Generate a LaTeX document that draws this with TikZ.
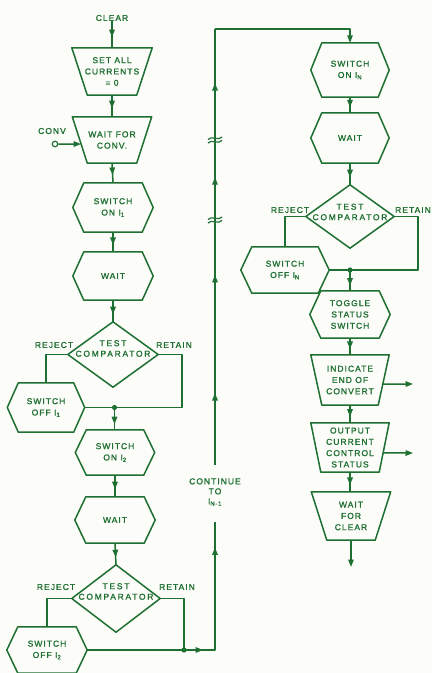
\documentclass[tikz,border=0pt]{standalone}
\usepackage{fontspec}
\newfontfamily\lbl[LetterSpace=12,FakeBold=1.3]{Liberation Sans}
\newfontfamily\lblw[LetterSpace=20,FakeBold=1.3]{Liberation Sans}
\usetikzlibrary{arrows.meta,decorations.markings,calc}
\definecolor{fg}{RGB}{30,112,50}
\definecolor{bg}{RGB}{252,252,249}
\tikzset{
 tip/.tip={Triangle[length=7.5pt,width=5.5pt]},
 ln/.style={draw=fg, line width=1.5pt, line join=round},
 box/.style={draw=none, inner sep=0pt, align=center, text=fg, font=\lbl\fontsize{8.5}{11.3}\selectfont},
 txt/.style={inner sep=0pt, align=center, text=fg, font=\lbl\fontsize{8.5}{11.3}\selectfont},
 dtxt/.style={inner sep=0pt, align=center, text=fg, font=\lblw\fontsize{8.5}{10.5}\selectfont},
 arr/.style={postaction={decorate}, decoration={markings, mark=at position #1 with {\arrow{tip}}}},
 arr/.default=0.6,
 endarr/.style={-tip},
}
\newcommand\hexo[2][11pt]{\draw[ln] ([xshift=#1]#2.north west) -- ([xshift=-#1]#2.north east) -- (#2.east) -- ([xshift=-#1]#2.south east) -- ([xshift=#1]#2.south west) -- (#2.west) -- cycle;}
\newcommand\trapo[2][15pt]{\draw[ln] (#2.north west) -- (#2.north east) -- ([xshift=-#1]#2.south east) -- ([xshift=#1]#2.south west) -- cycle;}
\newcommand\diao[1]{\draw[ln] (#1.north) -- (#1.east) -- (#1.south) -- (#1.west) -- cycle;}
\newcommand\brk[1]{\draw[fg, line width=1.2pt] ($(#1)+(-7,-0.5)$) .. controls +(3.5,-4.5) and +(-3.5,4.5) .. ($(#1)+(7,-3)$);
 \draw[fg, line width=1.2pt] ($(#1)+(-7,3)$) .. controls +(3.5,-4.5) and +(-3.5,4.5) .. ($(#1)+(7,0.5)$);}
\begin{document}
\begin{tikzpicture}[x=1pt,y=-1pt]
\fill[bg] (0,0) rectangle (432,673);
\useasboundingbox (0,0) rectangle (432,673);

% ---------- left column ----------
\node[txt] (clr) at (112,18) {CLEAR};
\node[box, minimum width=80pt, minimum height=47pt] (set) at (112,71.5) {SET ALL\\CURRENTS\\= 0};
\trapo[15.5pt]{set}
\node[box, minimum width=79pt, minimum height=46pt] (conv) at (112,140) {WAIT FOR\\CONV.};
\trapo{conv}
\node[txt] (convl) at (52,131) {CONV};
\node[draw=fg, circle, line width=1.2pt, minimum size=5.5pt, inner sep=0pt, fill=white] (convc) at (55,144) {};
\coordinate (convin) at ($(conv.north west)!0.587!([xshift=15pt]conv.south west)$);

\node[box, minimum width=80pt, minimum height=49pt] (on1) at (113,207.5) {SWITCH\\ON I\textsubscript{1}};
\hexo{on1}
\node[box, minimum width=80pt, minimum height=48pt] (wait1) at (113,276) {WAIT};
\hexo{wait1}
\node[box, minimum width=90pt, minimum height=65pt] (dia1) at (113,354.5) {};
\diao{dia1}
\node[dtxt] (dia1t) at (113,348.5) {TEST\\COMPARATOR};
\node[txt] (rej1) at (54,345) {REJECT};
\node[txt] (ret1) at (174,345) {RETAIN};
\node[box, minimum width=77pt, minimum height=49pt] (off1) at (46,407.5) {SWITCH\\OFF I\textsubscript{1}};
\hexo{off1}
\coordinate (r1) at (182,407.5);
\coordinate (j1) at (114.5,407.5);

\node[box, minimum width=79pt, minimum height=45pt] (on2) at (115,452.5) {SWITCH\\ON I\textsubscript{2}};
\hexo{on2}
\node[box, minimum width=80pt, minimum height=46pt] (wait2) at (115,520) {WAIT};
\hexo{wait2}
\node[box, minimum width=88pt, minimum height=67pt] (dia2) at (116,598.5) {};
\diao{dia2}
\node[dtxt] (dia2t) at (116,591.5) {TEST\\COMPARATOR};
\node[txt] (rej2) at (56,587) {REJECT};
\node[txt] (ret2) at (177,587) {RETAIN};
\node[box, minimum width=80pt, minimum height=46pt] (off2) at (47,650) {SWITCH\\OFF I\textsubscript{2}};
\hexo{off2}
\coordinate (r2) at (184,650);
\coordinate (c1) at (215,650);
\coordinate (c2) at (215,522);
\coordinate (c3) at (215,465);
\coordinate (c4) at (215,29);
\node[txt, font=\lbl\fontsize{8.5}{10}\selectfont] (cont) at (215,492) {CONTINUE\\TO\\I\textsubscript{N-1}};

% ---------- right column ----------
\node[box, minimum width=78pt, minimum height=54pt] (onN) at (350,70) {SWITCH\\ON I\textsubscript{N}};
\hexo{onN}
\node[box, minimum width=78pt, minimum height=50pt] (waitN) at (350,138) {WAIT};
\hexo{waitN}
\node[box, minimum width=88pt, minimum height=63pt] (diaN) at (350,216.5) {};
\diao{diaN}
\node[dtxt] (diaNt) at (350,212) {TEST\\COMPARATOR};
\node[txt] (rejN) at (290,210) {REJECT};
\node[txt] (retN) at (413,210) {RETAIN};
\node[box, minimum width=88pt, minimum height=46pt] (offN) at (285,270) {SWITCH\\OFF I\textsubscript{N}};
\hexo{offN}
\coordinate (rN) at (418,270);
\coordinate (jN) at (350,270);
\node[box, minimum width=80pt, minimum height=47pt] (tog) at (350,314.5) {TOGGLE\\STATUS\\SWITCH};
\hexo{tog}
\node[box, minimum width=78pt, minimum height=50pt] (ind) at (350,380) {INDICATE\\END OF\\CONVERT};
\trapo[11pt]{ind}
\node[box, minimum width=78pt, minimum height=49pt] (out) at (350,447.5) {OUTPUT\\CURRENT\\CONTROL\\STATUS};
\trapo[10pt]{out}
\node[box, minimum width=79pt, minimum height=48pt] (wc) at (351,516) {WAIT\\FOR\\CLEAR};
\trapo[15.5pt]{wc}
\coordinate (wcend) at (351,567);
\coordinate (indr) at ($(ind.north east)!0.58!([xshift=-11pt]ind.south east)$);
\coordinate (outr) at ($(out.north east)!0.61!([xshift=-10pt]out.south east)$);
\coordinate (indo) at (413,384);
\coordinate (outo) at (413,453);

% ---------- connectors ----------
\draw[ln, arr] (clr.south) -- (set.north);
\draw[ln, arr=0.6] (set.south) -- (conv.north);
\draw[ln, endarr] (convc.east) -- (convin);
\draw[ln, arr=0.6] (conv.south) -- (on1.north);
\draw[ln, arr=0.65] (on1.south) -- (wait1.north);
\draw[ln, arr=0.65] (wait1.south) -- (dia1.north);
\draw[ln] (dia1.west) -| (off1.north);
\draw[ln] (dia1.east) -| (r1) -- (off1.east);
\fill[fg] (j1) circle (2.6pt);
\draw[ln, arr=0.75] (j1) -- (j1 |- on2.north);
\draw[ln, arr=0.65] (on2.south) -- (wait2.north);
\draw[ln, arr=0.65] (wait2.south) -- (dia2.north);
\draw[ln] (dia2.west) -| (off2.north);
\draw[ln] (dia2.east) -| (r2);
\draw[ln] (off2.east) -- (r2);
\fill[fg] (r2) circle (2.6pt);
\draw[ln, postaction={decorate}, decoration={markings,
  mark=at position 0.12 with {\arrow{tip}},
  mark=at position 0.84 with {\arrow{tip}}}]
  (r2) -- (c1) -- (c2);
\draw[ln, postaction={decorate}, decoration={markings,
  mark=at position 0.165 with {\arrow{tip}},
  mark=at position 0.436 with {\arrow{tip}},
  mark=at position 0.66 with {\arrow{tip}},
  mark=at position 0.876 with {\arrow{tip}}}]
  (c3) -- (c4);
\draw[ln, endarr] (c4) -| (onN.north);
\brk{215,140}
\brk{215,220}

\draw[ln, arr=0.65] (onN.south) -- (waitN.north);
\draw[ln, arr=0.65] (waitN.south) -- (diaN.north);
\draw[ln] (diaN.west) -| (offN.north);
\draw[ln] (diaN.east) -| (rN) -- (offN.east);
\fill[fg] (jN) circle (2.6pt);
\draw[ln, arr=0.75] (jN) -- (tog.north);
\draw[ln, arr=0.65] (tog.south) -- (ind.north);
\draw[ln, arr=0.65] (ind.south) -- (out.north);
\draw[ln, arr=0.65] (out.south) -- (out.south |- wc.north);
\draw[ln, endarr] (wc.south) -- (wcend);
\draw[ln, endarr] (indr) -- (indo);
\draw[ln, endarr] (outr) -- (outo);
\end{tikzpicture}
\end{document}
